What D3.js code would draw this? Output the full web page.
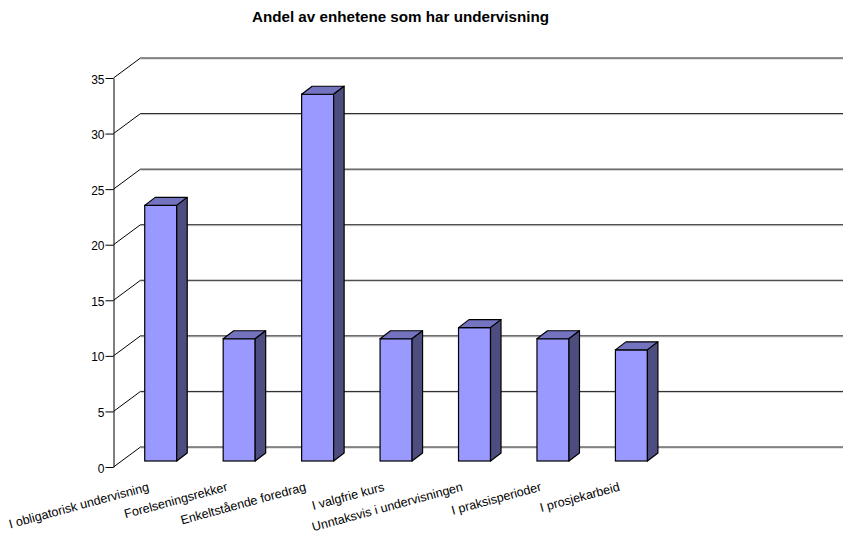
<!DOCTYPE html>
<html>
<head>
<meta charset="utf-8">
<script src="https://cdn.jsdelivr.net/npm/d3@7"></script>
<style>
  body { margin: 0; background: #fff; }
  text { font-family: "Liberation Sans", Arial, sans-serif; fill: #000; }
</style>
</head>
<body>
<div id="grafico"></div>
<script>
const titulo = "Andel av enhetene som har undervisning";
const categorias = ["I obligatorisk undervisning", "Forelseningsrekker", "Enkeltstående foredrag", "I valgfrie kurs", "Unntaksvis i undervisningen", "I praksisperioder", "I prosjekarbeid"];
const valores = [23, 11, 33, 11, 12, 11, 10];
const ticks = [0, 5, 10, 15, 20, 25, 30, 35];
const ranuras = 9; // the plot leaves room for two more categories on the right

const width = 843, height = 534;
const x0 = 113.5, y0 = 467, y35 = 78;
const fondoX = 27, fondoY = -20;   // depth of the floor
const barraX = 10.5, barraY = -8;  // depth of one bar
const pasoX = 8, pasoY = -6;       // bars stand a bit back from the front edge
const anchoBarra = 32;

const xScale = d3.scaleBand()
  .domain(d3.range(ranuras))
  .range([x0 + pasoX, x0 + pasoX + 78.45 * ranuras]);

const yScale = d3.scaleLinear()
  .domain([0, 35])
  .range([y0, y35]);

const svg = d3.select("#grafico").append("svg")
  .attr("width", width)
  .attr("height", height)
  .style("display", "block");

svg.append("text")
  .attr("x", 400.5)
  .attr("y", 22)
  .attr("text-anchor", "middle")
  .attr("font-size", 15.2)
  .attr("font-weight", "bold")
  .text(titulo);

// grid, back wall and side wall
const grid = svg.append("g");
ticks.forEach(function(t) {
  const y = yScale(t);
  grid.append("line")
    .attr("x1", x0 + fondoX).attr("y1", y + fondoY + 1)
    .attr("x2", width).attr("y2", y + fondoY + 1)
    .attr("stroke", "#c8c8c8");
  grid.append("line")
    .attr("x1", x0 + fondoX).attr("y1", y + fondoY)
    .attr("x2", width).attr("y2", y + fondoY)
    .attr("stroke", "#222");
  grid.append("line")
    .attr("x1", x0).attr("y1", y)
    .attr("x2", x0 + fondoX).attr("y2", y + fondoY)
    .attr("stroke", "#000");
});

// y axis
const ejeY = svg.append("g")
  .attr("transform", "translate(" + x0 + ",0)")
  .call(d3.axisLeft(yScale).tickValues(ticks).tickSize(8).tickPadding(1).tickSizeOuter(0));
ejeY.select(".domain").attr("stroke", "#000");
ejeY.selectAll("text").attr("font-size", 12).attr("font-family", "Liberation Sans").attr("dy", "0.42em");

// bars
const barras = svg.append("g").selectAll("g")
  .data(valores)
  .join("g");

const izq = (d, i) => xScale(i) + (xScale.bandwidth() - anchoBarra) / 2;
const base = y0 + pasoY;
const arriba = d => base - (y0 - yScale(d));

barras.append("rect")
  .attr("x", izq)
  .attr("y", arriba)
  .attr("width", anchoBarra)
  .attr("height", d => y0 - yScale(d))
  .attr("fill", "#9999ff")
  .attr("stroke", "#000")
  .attr("stroke-width", 1.2);

barras.append("path")
  .attr("d", function(d, i) {
    const l = izq(d, i), t = arriba(d);
    return "M" + l + "," + t + "l" + barraX + "," + barraY + "h" + anchoBarra + "l" + (-barraX) + "," + (-barraY) + "Z";
  })
  .attr("fill", "#7373c0")
  .attr("stroke", "#000")
  .attr("stroke-width", 1.2)
  .attr("stroke-linejoin", "round");

barras.append("path")
  .attr("d", function(d, i) {
    const r = izq(d, i) + anchoBarra, t = arriba(d);
    return "M" + r + "," + t + "l" + barraX + "," + barraY + "V" + (base + barraY) + "l" + (-barraX) + "," + (-barraY) + "Z";
  })
  .attr("fill", "#4d4d80")
  .attr("stroke", "#000")
  .attr("stroke-width", 1.2)
  .attr("stroke-linejoin", "round");

// category labels, rotated and ending under each bar
svg.append("g").selectAll("text")
  .data(categorias)
  .join("text")
  .attr("text-anchor", "end")
  .attr("font-size", 12.5)
  .attr("transform", function(d, i) {
    return "translate(" + (xScale(i) + xScale.bandwidth() / 2 - 11) + ",490.5) rotate(-15.2)";
  })
  .text(d => d);
</script>
</body>
</html>
